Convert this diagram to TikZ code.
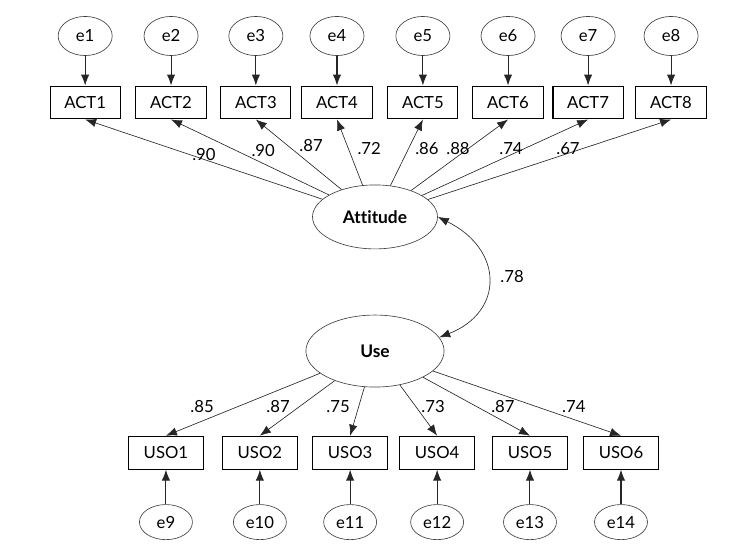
\documentclass[tikz,border=0pt]{standalone}
\usepackage{fontspec}
\setmainfont{Lato}[Ligatures=NoCommon]
\usepackage{tikz}
\usetikzlibrary{shapes.geometric,arrows.meta}

\begin{document}
\begin{tikzpicture}[
  font=\fontsize{13}{15}\selectfont,
  errvar/.style={ellipse,draw=black!75,line width=0.5pt,inner sep=0pt,minimum width=1.48cm,minimum height=1.07cm},
  errlow/.style={errvar,minimum width=1.45cm,minimum height=0.96cm},
  obsbox/.style={rectangle,draw=black,line width=0.8pt,inner sep=0pt,minimum width=1.92cm,minimum height=0.9cm},
  usobox/.style={obsbox,minimum width=2.05cm},
  latent/.style={ellipse,draw=black!75,line width=0.5pt,inner sep=0pt,font=\fontsize{13.5}{15}\selectfont\bfseries},
  path/.style={draw=black!85,line width=0.5pt,-{Latex[length=3mm,width=2.3mm]}},
  errpath/.style={path,line width=0.8pt}
]
\useasboundingbox (0,0) rectangle (20,15.075);
% error terms, attitude items
\node[errvar] (e1) at (2.33,14.09){e1};
\node[errvar] (e2) at (4.68,14.09){e2};
\node[errvar] (e3) at (7.00,14.09){e3};
\node[errvar] (e4) at (9.22,14.09){e4};
\node[errvar] (e5) at (11.57,14.09){e5};
\node[errvar] (e6) at (13.90,14.09){e6};
\node[errvar] (e7) at (16.09,14.09){e7};
\node[errvar] (e8) at (18.36,14.09){e8};
\node[obsbox] (act1) at (2.33,12.27){ACT1};
\node[obsbox] (act2) at (4.68,12.27){ACT2};
\node[obsbox] (act3) at (7.00,12.27){ACT3};
\node[obsbox] (act4) at (9.22,12.27){ACT4};
\node[obsbox] (act5) at (11.57,12.27){ACT5};
\node[obsbox] (act6) at (13.90,12.27){ACT6};
\node[obsbox] (act7) at (16.09,12.27){ACT7};
\node[obsbox] (act8) at (18.36,12.27){ACT8};
% latent factors
\node[latent,minimum width=3.42cm,minimum height=1.75cm] (att) at (10.26,9.14){Attitude};
\node[latent,minimum width=3.78cm,minimum height=1.97cm] (use) at (10.26,5.47){Use};
% use items and their errors
\node[usobox] (uso1) at (4.54,2.69){USO1};
\node[usobox] (uso2) at (7.11,2.69){USO2};
\node[usobox] (uso3) at (9.58,2.69){USO3};
\node[usobox] (uso4) at (11.96,2.69){USO4};
\node[usobox] (uso5) at (14.50,2.69){USO5};
\node[usobox] (uso6) at (16.99,2.69){USO6};
\node[errlow] (e9) at (4.54,0.79){e9};
\node[errlow] (e10) at (7.11,0.79){e10};
\node[errlow] (e11) at (9.58,0.79){e11};
\node[errlow] (e12) at (11.96,0.79){e12};
\node[errlow] (e13) at (14.50,0.79){e13};
\node[errlow] (e14) at (16.99,0.79){e14};
% error paths
\draw[errpath](e1) -- (act1);
\draw[errpath](e2) -- (act2);
\draw[errpath](e3) -- (act3);
\draw[errpath](e4) -- (act4);
\draw[errpath](e5) -- (act5);
\draw[errpath](e6) -- (act6);
\draw[errpath](e7) -- (act7);
\draw[errpath](e8) -- (act8);
\draw[errpath](e9) -- (uso1);
\draw[errpath](e10) -- (uso2);
\draw[errpath](e11) -- (uso3);
\draw[errpath](e12) -- (uso4);
\draw[errpath](e13) -- (uso5);
\draw[errpath](e14) -- (uso6);
% loadings
\draw[path](att) -- (act1.south);
\draw[path](att) -- (act2.south);
\draw[path](att) -- (act3.south);
\draw[path](att) -- (act4.south);
\draw[path](att) -- (act5.south);
\draw[path](att) -- (act6.south);
\draw[path](att) -- (act7.south);
\draw[path](att) -- (act8.south);
\draw[path](use) -- (uso1.north);
\draw[path](use) -- (uso2.north);
\draw[path](use) -- (uso3.north);
\draw[path](use) -- (uso4.north);
\draw[path](use) -- (uso5.north);
\draw[path](use) -- (uso6.north);
\draw[path,{Latex[length=3mm,width=2.3mm]}-{Latex[length=3mm,width=2.3mm]}](att.east) .. controls (13.79,8.24) and (13.79,6.54) .. (use.12);
\node (la1) at (5.58,10.86){.90};
\node (la2) at (7.20,10.97){.90};
\node (la3) at (8.51,11.08){.87};
\node (la4) at (10.10,11.00){.72};
\node (la5) at (11.68,11.00){.86};
\node (la6) at (12.53,11.00){.88};
\node (la7) at (13.98,11.00){.74};
\node (la8) at (15.54,11.00){.67};
\node (lu1) at (5.53,3.94){.85};
\node (lu2) at (7.61,3.94){.87};
\node (lu3) at (9.25,3.94){.75};
\node (lu4) at (11.85,3.94){.73};
\node (lu5) at (13.76,3.94){.87};
\node (lu6) at (15.70,3.94){.74};
\node (lcov) at (14.01,7.52){.78};
\end{tikzpicture}
\end{document}
